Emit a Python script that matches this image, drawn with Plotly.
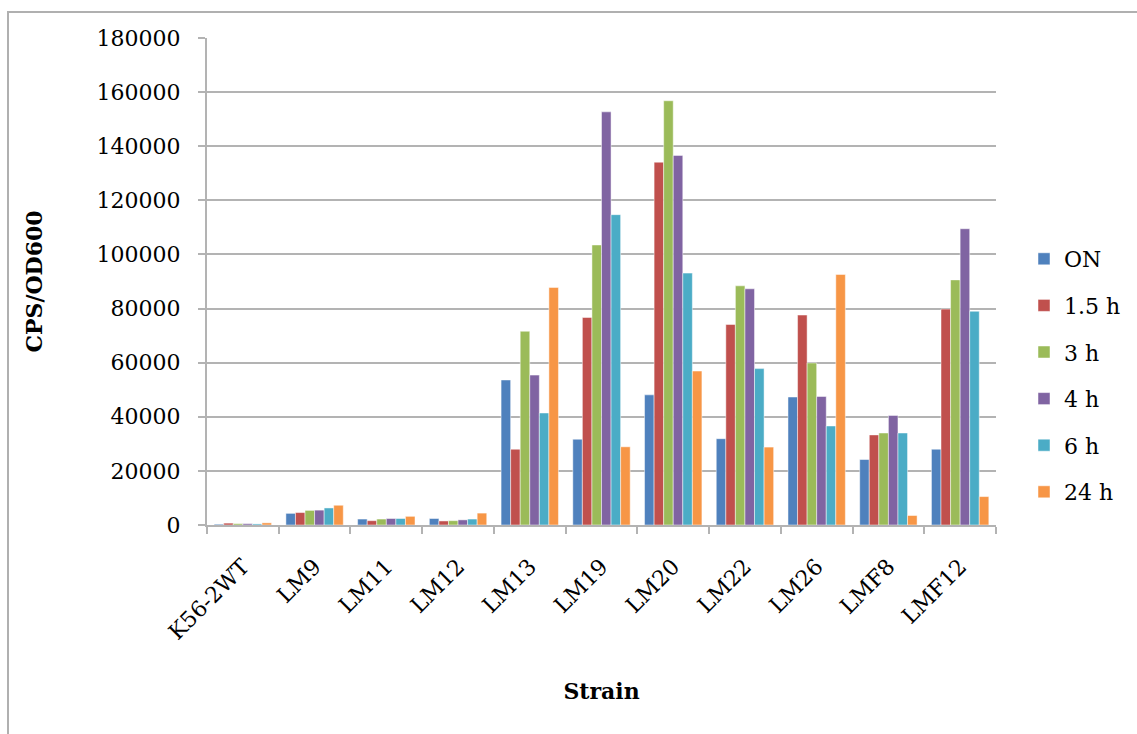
import plotly.graph_objects as go

# Strains on the category axis
strains = ["K56-2WT", "LM9", "LM11", "LM12", "LM13", "LM19",
           "LM20", "LM22", "LM26", "LMF8", "LMF12"]

# CPS/OD600 per time point, one value per strain
on_vals   = [300, 4300, 2200, 2400, 53600, 31700, 48100, 31900, 47300, 24200, 28000]
h1_5_vals = [700, 4600, 1600, 1500, 28000, 76700, 134100, 74100, 77600, 33300, 79800]
h3_vals   = [500, 5400, 2200, 1600, 71600, 103500, 156800, 88400, 59900, 34000, 90600]
h4_vals   = [500, 5500, 2400, 1900, 55400, 152700, 136600, 87300, 47500, 40500, 109500]
h6_vals   = [400, 6300, 2400, 2200, 41400, 114700, 93100, 57800, 36600, 34000, 79000]
h24_vals  = [800, 7300, 3200, 4400, 87800, 28900, 56900, 28800, 92600, 3500, 10500]

series_names = ["ON", "1.5 h", "3 h", "4 h", "6 h", "24 h"]
series_vals = [on_vals, h1_5_vals, h3_vals, h4_vals, h6_vals, h24_vals]
series_colors = ["#4F81BD", "#C0504D", "#9BBB59", "#8064A2", "#4BACC6", "#F79646"]

y_ticks = list(range(0, 180001, 20000))

FONT = "DejaVu Serif"
FS = 22
W, H = 1137, 734
L, R, T, B = 207, 141, 38, 209
PW, PH = W - L - R, H - T - B

fig = go.Figure()
for name, vals, col in zip(series_names, series_vals, series_colors):
    fig.add_trace(go.Bar(
        x=strains, y=vals, name=name, legendgroup=name,
        marker=dict(color=col, line=dict(color="rgba(255,255,255,0.6)", width=0.8)),
    ))

grid_col = "#b3b3b3"
fig.update_layout(
    width=W, height=H,
    margin=dict(l=L, r=R, t=T, b=B, autoexpand=False),
    paper_bgcolor="white", plot_bgcolor="white",
    barmode="group", bargap=0.2, bargroupgap=0,
    font=dict(family=FONT, size=FS, color="black"),
    showlegend=True,
    legend=dict(
        x=(1024 - L) / PW, y=(525 - 238) / PH, xanchor="left", yanchor="top",
        font=dict(family=FONT, size=FS, color="black"),
        tracegroupgap=15, bgcolor="rgba(0,0,0,0)",
        itemclick=False, itemdoubleclick=False,
    ),
    xaxis=dict(
        type="category", tickangle=-45, tickson="boundaries",
        ticks="outside", ticklen=7, tickwidth=2, tickcolor=grid_col,
        ticklabelstandoff=18,
        showline=True, linecolor=grid_col, linewidth=2,
        showgrid=False, automargin=False,
        tickfont=dict(family=FONT, size=FS, color="black"),
        title=dict(text="<b>Strain</b>", standoff=40,
                   font=dict(family=FONT, size=FS, color="black")),
    ),
    yaxis=dict(
        range=[0, 180000], tickvals=y_ticks, ticktext=[str(v) for v in y_ticks],
        ticks="outside", ticklen=7, tickwidth=2, tickcolor=grid_col,
        ticklabelstandoff=13,
        showline=True, linecolor=grid_col, linewidth=2,
        showgrid=True, gridcolor=grid_col, gridwidth=2,
        zeroline=False, automargin=False,
        tickfont=dict(family=FONT, size=FS, color="black"),
        title=dict(text="<b>CPS/OD600</b>", standoff=48,
                   font=dict(family=FONT, size=FS, color="black")),
    ),
)

# chart-area frame (open at right and bottom)
fig.add_shape(
    type="rect", xref="paper", yref="paper", layer="below",
    x0=(8 - L) / PW, x1=(W + 20 - L) / PW,
    y0=(525 - (H + 20)) / PH, y1=(525 - 12) / PH,
    line=dict(color="#b0b0b0", width=2), fillcolor="rgba(0,0,0,0)",
)

fig.write_html("out.html")
